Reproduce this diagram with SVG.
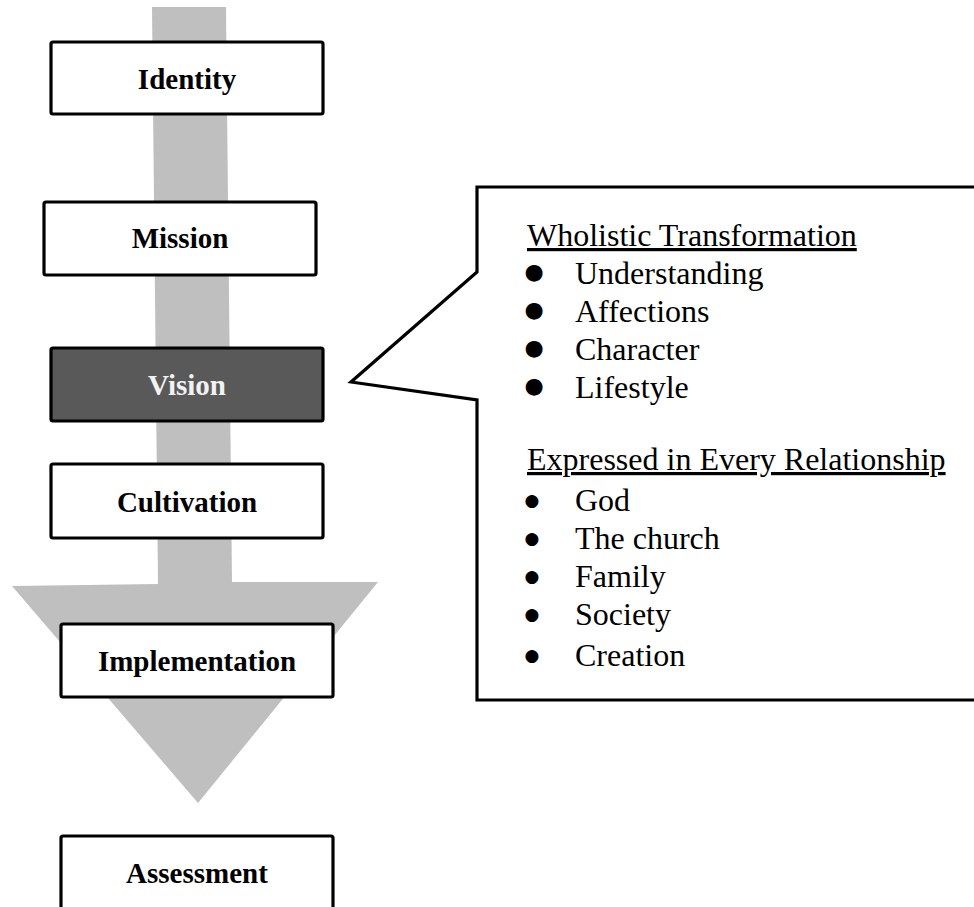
<svg xmlns="http://www.w3.org/2000/svg" width="974" height="907" viewBox="0 0 974 907">
<style>
.box{fill:#ffffff;stroke:#000000;stroke-width:3.2}
.dark{fill:#595959;stroke:#000000;stroke-width:3.2}
.lbl{font-family:"Liberation Serif","Times New Roman",serif;font-weight:bold;font-size:29px;text-anchor:middle;fill:#000000}
.lblw{fill:#f2f2f2}
.body{font-family:"Liberation Serif","Times New Roman",serif;font-size:32px;fill:#000000}
.u{text-decoration:underline}
.b1{font-family:"DejaVu Sans",sans-serif;font-size:22px;text-anchor:middle;fill:#000000}
.b2{font-family:"DejaVu Sans",sans-serif;font-size:17px;text-anchor:middle;fill:#000000}
</style>
<rect width="974" height="907" fill="#ffffff"/>
<g id="connectors">
<polygon id="arrow" points="152,7 226,7 232,582 378,582 198,803 12,586 158,584" fill="#bfbfbf"/>
</g>
<g id="callout">
<path d="M980,187 L477,187 L477,272 L351,382 L477,400 L477,700 L980,700 Z" fill="#ffffff" stroke="#000000" stroke-width="3.2" stroke-linejoin="miter"/>
<text class="body u" x="527" y="246">Wholistic Transformation</text>
<text class="b1" x="534" y="279">●</text><text class="body" x="575" y="284">Understanding</text>
<text class="b1" x="534" y="317">●</text><text class="body" x="575" y="322">Affections</text>
<text class="b1" x="534" y="355">●</text><text class="body" x="575" y="360">Character</text>
<text class="b1" x="534" y="393">●</text><text class="body" x="575" y="398">Lifestyle</text>
<text class="body u" x="527" y="470">Expressed in Every Relationship</text>
<text class="b2" x="532" y="506">●</text><text class="body" x="575" y="511">God</text>
<text class="b2" x="532" y="544">●</text><text class="body" x="575" y="549">The church</text>
<text class="b2" x="532" y="582">●</text><text class="body" x="575" y="587">Family</text>
<text class="b2" x="532" y="620">●</text><text class="body" x="575" y="625">Society</text>
<text class="b2" x="532" y="661">●</text><text class="body" x="575" y="666">Creation</text>
</g>
<g id="identity"><rect class="box" x="51" y="42" width="272" height="72" rx="2"/><text class="lbl" x="187" y="89">Identity</text></g>
<g id="mission"><rect class="box" x="44" y="202" width="272" height="73" rx="2"/><text class="lbl" x="180" y="248">Mission</text></g>
<g id="vision"><rect class="dark" x="51" y="348" width="272" height="73" rx="2"/><text class="lbl lblw" x="187" y="395">Vision</text></g>
<g id="cultivation"><rect class="box" x="51" y="464" width="272" height="74" rx="2"/><text class="lbl" x="187" y="512">Cultivation</text></g>
<g id="implementation"><rect class="box" x="61" y="624" width="272" height="73" rx="2"/><text class="lbl" x="197" y="671">Implementation</text></g>
<g id="assessment"><rect class="box" x="61" y="836" width="272" height="76" rx="2"/><text class="lbl" x="197" y="883">Assessment</text></g>
</svg>
